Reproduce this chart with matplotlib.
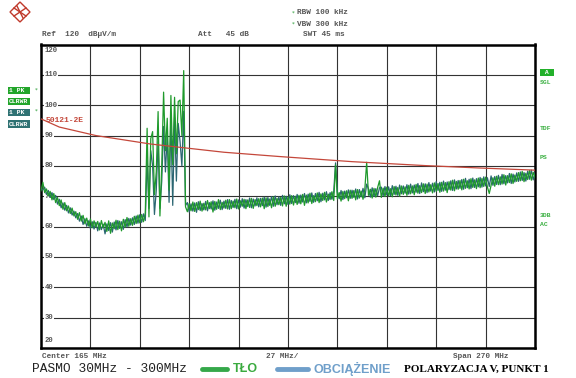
import numpy as np
import matplotlib.pyplot as plt
from matplotlib.lines import Line2D
from matplotlib.patches import Polygon

# sweep 30..300 MHz, 1 MHz per point
freq = np.arange(30, 301, 1)

tlo = [
    71.8, 74.6, 71.2, 72.4, 70.1, 71.6, 68.8, 70.9, 67.9, 69.6,
    66.9, 68.8, 65.7, 67.9, 65.2, 66.8, 64.3, 66.1, 63.5, 64.9,
    62.4, 64.6, 61.8, 63.7, 60.9, 62.8, 60.2, 62.5, 59.6, 61.9,
    59.8, 61.7, 58.9, 62.0, 59.6, 61.4, 58.4, 61.9, 57.8, 61.2,
    59.3, 62.1, 59.0, 61.8, 58.6, 62.4, 59.8, 63.0, 60.1, 62.6,
    60.4, 63.4, 61.0, 63.8, 61.2, 64.0, 61.6, 64.4, 92.4, 63.2,
    89.0, 91.3, 70.5, 78.0, 97.9, 63.5, 80.2, 104.3, 85.0, 95.7,
    72.0, 103.2, 80.4, 102.6, 84.0, 101.2, 101.7, 90.0, 111.4, 66.5,
    64.9, 67.6, 65.2, 68.1, 65.0, 67.9, 65.6, 68.4, 65.1, 67.7,
    65.5, 68.6, 65.9, 68.2, 64.8, 68.3, 65.7, 68.9, 65.6, 68.0,
    66.1, 68.7, 65.8, 68.9, 65.9, 68.4, 66.2, 69.1, 65.8, 68.5,
    66.7, 69.0, 65.9, 68.8, 66.3, 69.3, 66.0, 68.9, 66.9, 69.2,
    66.5, 69.4, 65.9, 69.5, 66.6, 69.1, 66.2, 69.8, 66.7, 69.3,
    67.2, 69.6, 66.8, 70.1, 66.7, 69.8, 67.4, 70.2, 67.1, 70.0,
    67.3, 70.3, 67.5, 70.6, 67.0, 70.4, 67.8, 71.0, 67.6, 70.2,
    68.2, 71.1, 67.9, 70.8, 68.6, 71.3, 68.1, 70.7, 68.9, 71.5,
    68.6, 80.3, 69.1, 71.2, 68.4, 71.6, 69.2, 71.8, 68.5, 72.0,
    69.3, 71.9, 68.8, 72.2, 69.4, 71.7, 69.0, 72.4, 81.2, 70.3,
    72.3, 69.4, 72.6, 69.7, 72.9, 75.1, 69.6, 72.7, 69.9, 73.0,
    70.1, 72.5, 69.8, 73.2, 70.4, 72.9, 70.0, 73.4, 70.6, 73.1,
    70.3, 73.6, 70.8, 73.4, 70.5, 73.9, 71.0, 73.5, 71.2, 74.1,
    70.9, 74.0, 71.4, 73.8, 71.1, 74.4, 71.6, 74.2, 71.3, 74.6,
    71.7, 74.5, 71.2, 74.8, 72.0, 75.3, 71.8, 74.9, 72.3, 75.2,
    72.1, 75.6, 72.6, 75.1, 72.4, 75.8, 72.9, 75.4, 72.5, 76.0,
    72.8, 75.9, 73.2, 76.3, 73.0, 70.9, 73.6, 76.1, 73.3, 76.6,
    73.8, 76.4, 74.0, 77.1, 73.7, 76.8, 74.5, 77.4, 74.2, 77.0,
    74.9, 77.8, 75.1, 78.2, 74.8, 77.6, 75.5, 78.5, 75.3, 77.9,
    76.2,
]

obciazenie = [
    72.5, 72.1, 73.0, 70.6, 71.9, 69.7, 71.2, 68.9, 70.3, 67.4,
    69.0, 66.2, 67.8, 65.4, 67.0, 64.5, 66.2, 63.8, 65.1, 62.9,
    64.3, 61.8, 63.5, 60.7, 62.6, 60.1, 61.9, 59.4, 61.6, 59.2,
    61.4, 58.6, 61.2, 59.0, 60.8, 57.6, 60.9, 58.7, 61.3, 58.2,
    61.5, 58.9, 62.0, 59.4, 61.6, 59.1, 62.3, 59.9, 62.7, 60.5,
    62.9, 60.7, 63.5, 61.1, 63.9, 61.4, 64.2, 62.0, 82.0, 66.0,
    85.0, 80.0, 64.0, 72.0, 88.0, 66.0, 75.0, 93.0, 78.0, 90.0,
    68.0, 95.0, 67.0, 96.0, 75.0, 94.0, 88.0, 80.0, 98.0, 67.0,
    67.9, 64.8, 67.5, 65.1, 67.8, 64.7, 68.2, 65.3, 67.6, 65.5,
    68.3, 65.2, 67.9, 65.8, 68.5, 65.4, 68.1, 66.0, 68.7, 65.6,
    68.4, 66.0, 68.9, 65.7, 68.6, 66.3, 69.0, 65.9, 68.8, 66.4,
    69.2, 66.1, 68.9, 66.6, 69.4, 66.2, 69.1, 66.8, 69.5, 66.5,
    69.3, 66.9, 69.7, 66.4, 69.6, 67.0, 69.9, 66.7, 70.1, 67.2,
    69.8, 67.0, 70.3, 67.5, 70.0, 67.3, 70.5, 67.6, 70.2, 67.9,
    70.6, 67.7, 70.4, 68.1, 70.9, 67.8, 70.7, 68.3, 71.1, 68.0,
    70.9, 68.5, 71.3, 68.2, 71.0, 68.8, 71.5, 68.6, 71.2, 69.0,
    71.6, 81.0, 71.4, 69.2, 71.9, 68.9, 71.7, 69.5, 72.1, 69.3,
    72.0, 69.6, 72.4, 69.1, 72.2, 69.8, 72.6, 69.5, 74.0, 72.4,
    69.7, 72.8, 69.9, 72.5, 70.2, 72.8, 73.0, 70.1, 73.2, 70.4,
    73.1, 70.2, 73.5, 70.6, 73.3, 70.3, 73.7, 70.8, 73.4, 71.0,
    73.8, 70.7, 74.0, 71.1, 73.7, 71.3, 74.2, 70.9, 74.4, 71.5,
    74.1, 71.2, 74.5, 71.7, 74.3, 71.4, 74.8, 71.9, 74.6, 71.6,
    75.0, 72.0, 74.7, 72.2, 75.1, 71.9, 75.4, 72.4, 75.2, 72.6,
    75.5, 72.3, 75.9, 72.8, 75.6, 72.5, 76.0, 72.9, 75.8, 73.1,
    76.2, 73.0, 76.4, 73.4, 76.1, 73.2, 76.7, 73.6, 76.5, 73.9,
    76.9, 73.8, 77.2, 74.1, 76.8, 74.4, 77.5, 74.2, 77.3, 74.7,
    77.7, 74.9, 78.0, 75.2, 77.8, 75.0, 78.3, 75.6, 78.6, 75.4,
    77.6,
]

# EN 50121-2 limit line
limit_f = [30, 40, 60, 90, 130, 160, 200, 240, 270, 300]
limit_db = [95.5, 92.8, 90.0, 87.2, 84.5, 83.1, 81.4, 80.1, 79.3, 78.6]

y_ticks = [30, 40, 50, 60, 70, 80, 90, 100, 110]

W, H = 576, 378
GREEN = '#1f9a2c'
TEAL = '#2b6672'
MONO = 'Liberation Mono'

fig = plt.figure(figsize=(W / 100, H / 100), dpi=100)
ax = fig.add_axes([41 / W, 1 - 348 / H, 494 / W, 303.5 / H])


def px(x, y):
    return x / W, 1 - y / H


ax.set_xlim(30, 300)
ax.set_ylim(20, 120)
ax.set_xticks(np.arange(30, 301, 27))
ax.set_yticks(np.arange(20, 121, 10))
ax.tick_params(length=0, labelbottom=False, labelleft=False)
ax.grid(True, color='#333333', lw=0.8)
for s in ax.spines.values():
    s.set_linewidth(1.8)
    s.set_color('black')

ax.plot(freq, obciazenie, color=TEAL, lw=0.9, zorder=3)
ax.plot(freq, tlo, color=GREEN, lw=0.9, zorder=4)
ax.plot(limit_f, limit_db, color='#c4473a', lw=0.9, zorder=5)

# level labels sitting on the grid lines (under the traces)
for v in y_ticks:
    ax.annotate(str(v), xy=(0, v), xycoords=('axes fraction', 'data'),
                xytext=(2.5, 0), textcoords='offset points', va='center',
                fontsize=5.2, family=MONO, weight='bold', color='#555555',
                bbox=dict(facecolor='white', edgecolor='none', pad=0.6), zorder=2.5)
fig.text(*px(45, 51), '120', fontsize=5.2, family=MONO, weight='bold',
         color='#555555', va='center')
fig.text(*px(45, 341), '20', fontsize=5.2, family=MONO, weight='bold',
         color='#555555', va='center')
fig.text(*px(46, 121), '50121-2E', fontsize=5.8, family=MONO, weight='bold',
         color='#c4473a', va='center')

# header
info = dict(fontsize=5.6, family=MONO, weight='bold', color='#555555', va='center')
fig.text(*px(42, 34), 'Ref  120  dB\u00b5V/m', **info)
fig.text(*px(198, 34), 'Att   45 dB', **info)
fig.text(*px(303, 34), 'SWT 45 ms', **info)
fig.text(*px(297, 13), 'RBW 100 kHz', **info)
fig.text(*px(297, 24), 'VBW 300 kHz', **info)
fig.text(*px(292, 13), '*', fontsize=4, color=GREEN, va='center')
fig.text(*px(292, 24), '*', fontsize=4, color=GREEN, va='center')

# R&S style logo
cx, cy, r = 20, 12, 10
diamond = [px(cx - r, cy), px(cx, cy - r), px(cx + r, cy), px(cx, cy + r)]
fig.patches.append(Polygon(diamond, closed=True, fill=False, ec='#c0392b',
                           lw=1.0, transform=fig.transFigure))
for (x0, y0, x1, y1) in [(cx - 6, cy - 4, cx + 6, cy + 4), (cx - 6, cy + 4, cx + 6, cy - 4),
                         (cx - 3, cy - 6, cx + 3, cy + 6)]:
    fig.lines.append(Line2D([x0 / W, x1 / W], [1 - y0 / H, 1 - y1 / H], color='#c0392b',
                            lw=1.0, transform=fig.transFigure))

# trace boxes on the left
box = dict(fontsize=4.6, family=MONO, weight='bold', color='white', va='center')
fig.text(*px(9, 90.5), '1 PK ', bbox=dict(fc='#22a52a', ec='none', pad=1), **box)
fig.text(*px(9, 101.5), 'CLRWR', bbox=dict(fc='#22a52a', ec='none', pad=1), **box)
fig.text(*px(9, 112.5), '1 PK ', bbox=dict(fc='#2f7273', ec='none', pad=1), **box)
fig.text(*px(9, 124), 'CLRWR', bbox=dict(fc='#2f7273', ec='none', pad=1), **box)
fig.text(*px(35, 90), '*', fontsize=4, color=GREEN, va='center')
fig.text(*px(35, 111), '*', fontsize=4, color=GREEN, va='center')

# right hand status labels
fig.text(*px(541, 72.5), ' A ', bbox=dict(fc='#22b02a', ec='none', pad=1), **box)
side = dict(fontsize=4.6, family=MONO, weight='bold', color='#3cb043', va='center')
fig.text(*px(540, 82), 'SGL', **side)
fig.text(*px(540, 129), 'TDF', **side)
fig.text(*px(540, 158), 'PS', **side)
fig.text(*px(540, 215), '3DB', **side)
fig.text(*px(540, 225), 'AC', **side)

# footer of the screen
fig.text(*px(42, 357), 'Center 165 MHz', **info)
fig.text(*px(266, 357), '27 MHz/', **info)
fig.text(*px(453, 357), 'Span 270 MHz', **info)

# caption line
fig.text(*px(32, 369), 'PASMO 30MHz - 300MHz', fontsize=9.3, family=MONO,
         color='#222222', va='center')
fig.lines.append(Line2D([202 / W, 227 / W], [1 - 369 / H] * 2, color='#35a84a',
                        lw=3.5, solid_capstyle='round', transform=fig.transFigure))
fig.text(*px(233, 369), 'TŁO', fontsize=9, family='Liberation Sans', weight='bold',
         color='#3aaa3f', va='center')
fig.lines.append(Line2D([277 / W, 308 / W], [1 - 369 / H] * 2, color='#6f9fca',
                        lw=3.5, solid_capstyle='round', transform=fig.transFigure))
fig.text(*px(313, 369), 'OBCIĄŻENIE', fontsize=9, family='Liberation Sans', weight='bold',
         color='#6f9fca', va='center')
fig.text(*px(404, 369), 'POLARYZACJA V, PUNKT 1', fontsize=8, family='Liberation Serif',
         weight='bold', color='black', va='center')

fig.savefig('out.png', dpi=100)
